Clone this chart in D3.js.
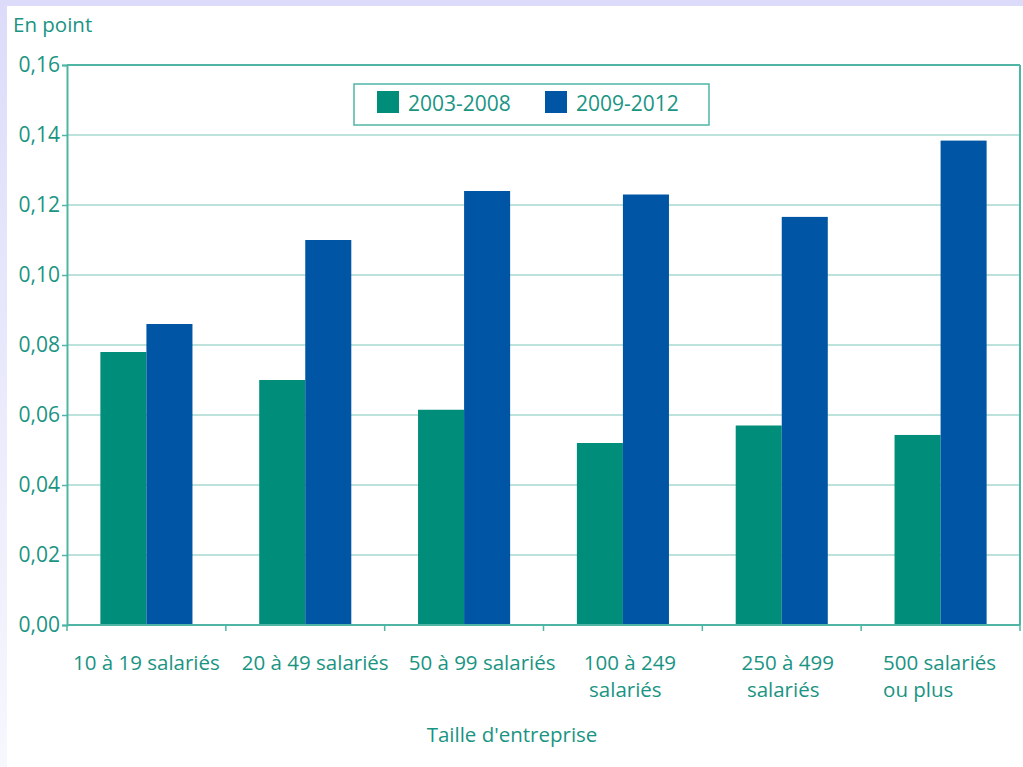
<!DOCTYPE html>
<html><head><meta charset="utf-8">
<script src="https://cdn.jsdelivr.net/npm/d3@7"></script>
<style>
html,body{margin:0;padding:0;background:#fff;}
svg{display:block;}
text{font-family:"Open Sans",sans-serif;fill:#1A9483;}
</style></head>
<body>
<svg id="c" width="1023" height="767"></svg>
<script>
const categories = [["10 à 19 salariés"], ["20 à 49 salariés"], ["50 à 99 salariés"], ["100 à 249", " salariés"], ["250 à 499", " salariés"], ["500 salariés", "ou plus"]];
const series = ["2003-2008", "2009-2012"];
const values2003_2008 = [0.078, 0.070, 0.0615, 0.052, 0.057, 0.0543];
const values2009_2012 = [0.086, 0.110, 0.124, 0.123, 0.1166, 0.1384];
const yTicks = [0, 0.02, 0.04, 0.06, 0.08, 0.10, 0.12, 0.14, 0.16];
const colors = ["#008E7A", "#0055A4"];
// layout: horizontal nudges of category labels (px)
const labelShift = [0, 10, 18, 7, 6, -1];

const svg = d3.select("#c");
const W = 1023, H = 767;
const defs = svg.append("defs");
const g1 = defs.append("linearGradient").attr("id","lg").attr("x1",0).attr("y1",0).attr("x2",0).attr("y2",1);
g1.append("stop").attr("offset","0%").attr("stop-color","#DCDCFA");
g1.append("stop").attr("offset","100%").attr("stop-color","#F7F7FE");
svg.append("rect").attr("x",0).attr("y",0).attr("width",W).attr("height",H).attr("fill","#fff");
svg.append("rect").attr("x",0).attr("y",0).attr("width",7).attr("height",H).attr("fill","url(#lg)");
svg.append("rect").attr("x",0).attr("y",0).attr("width",W).attr("height",6).attr("fill","#DCDCFA");

const m = {left:67, right:1020, top:65, bottom:625};
const x0 = d3.scaleBand().domain(d3.range(categories.length)).range([m.left, m.right]).padding(0);
const x1 = d3.scaleBand().domain(series).range([0, x0.bandwidth()]).paddingInner(0).paddingOuter(0.725);
const y = d3.scaleLinear().domain([0, 0.16]).range([m.bottom, m.top]);

const fmt = d => d3.format(".2f")(d).replace(".", ",");

svg.append("g").selectAll("line").data(yTicks.filter(t => t > 0 && t < 0.16)).join("line")
  .attr("x1", m.left).attr("x2", m.right).attr("y1", d => y(d)).attr("y2", d => y(d))
  .attr("stroke", "#A6D9CF").attr("stroke-width", 1.5);

const data = categories.map((c, i) => [values2003_2008[i], values2009_2012[i]]);
const grp = svg.append("g").selectAll("g").data(data).join("g")
  .attr("transform", (d, i) => `translate(${x0(i)},0)`);
grp.selectAll("rect").data(d => d.map((v, j) => ({v, s: series[j], j}))).join("rect")
  .attr("x", d => x1(d.s)).attr("width", x1.bandwidth())
  .attr("y", d => y(d.v)).attr("height", d => y(0) - y(d.v))
  .attr("fill", d => colors[d.j]);

const axisColor = "#4FB5A5";
svg.append("line").attr("x1", m.left).attr("x2", m.right).attr("y1", m.top).attr("y2", m.top).attr("stroke", axisColor).attr("stroke-width", 2);
svg.append("line").attr("x1", m.right).attr("x2", m.right).attr("y1", m.top).attr("y2", m.bottom).attr("stroke", axisColor).attr("stroke-width", 2);

const yAxis = svg.append("g").attr("transform", `translate(${m.left},0)`)
  .call(d3.axisLeft(y).tickValues(yTicks).tickFormat(fmt).tickSize(5).tickPadding(2));
yAxis.select(".domain").attr("stroke", axisColor).attr("stroke-width", 2);
yAxis.selectAll(".tick line").attr("stroke", axisColor).attr("stroke-width", 1.5);
yAxis.selectAll("text").style("font-size", "21px").attr("fill", "#1A9483").style("font-family", "'Open Sans',sans-serif");

const xb = svg.append("g").attr("transform", `translate(0,${m.bottom})`);
xb.append("line").attr("x1", m.left).attr("x2", m.right).attr("stroke", axisColor).attr("stroke-width", 2);
const bounds = d3.range(categories.length + 1).map(i => i < categories.length ? x0(i) : m.right);
xb.selectAll("line.tk").data(bounds).join("line").attr("class","tk")
  .attr("x1", d => d).attr("x2", d => d).attr("y1", 0).attr("y2", 6)
  .attr("stroke", axisColor).attr("stroke-width", 1.5);

categories.forEach((lines, i) => {
  const cx = x0(i) + x0.bandwidth() / 2 + labelShift[i];
  const t = svg.append("text").attr("y", 670).style("font-size", "20.5px").attr("xml:space","preserve");
  const first = t.append("tspan").attr("x", cx).attr("text-anchor","middle").text(lines[0]);
  if (lines.length > 1) {
    const w = first.node().getComputedTextLength();
    t.append("tspan").attr("x", cx - w / 2).attr("dy", 27).text(lines[1]);
  }
});

svg.append("text").attr("x", 512).attr("y", 742).attr("text-anchor","middle").style("font-size","20.5px").text("Taille d'entreprise");
svg.append("text").attr("x", 13).attr("y", 32).style("font-size","20.5px").text("En point");

const lg = svg.append("g");
lg.append("rect").attr("x", 354).attr("y", 84).attr("width", 355).attr("height", 41)
  .attr("fill", "#fff").attr("stroke", axisColor).attr("stroke-width", 1.5);
const legX = [377, 545];
series.forEach((s, j) => {
  lg.append("rect").attr("x", legX[j]).attr("y", 91).attr("width", 22).attr("height", 22).attr("fill", colors[j]);
  lg.append("text").attr("x", legX[j] + 31).attr("y", 111).style("font-size","21px").text(s);
});
</script>
</body></html>
